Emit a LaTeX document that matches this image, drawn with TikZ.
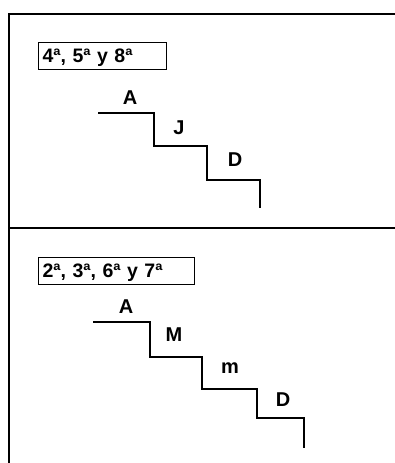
\documentclass[tikz,border=0pt]{standalone}
\usepackage{fontspec}
\setmainfont{Liberation Sans}
\begin{document}
\begin{tikzpicture}[x=1pt,y=-1pt,font=\bfseries\fontsize{20}{22}\selectfont,
		frame/.style={line width=1.6pt},
		stair/.style={line width=1.3pt},
		tag/.style={draw,line width=1.2pt,inner sep=0pt,anchor=north west,minimum height=27pt,text width=#1,align=left,text depth=0pt,font=\bfseries\fontsize{19.5}{21}\selectfont}]
	\useasboundingbox (0,0) rectangle (395,463);
	% frame
	\draw[frame] (396,14)--(9,14)--(9,464);
	\draw[frame] (9,228)--(396,228);
	% top panel
	\node[tag=128pt] (t1) at (38,42) {\hspace{4pt}4ª, 5ª y 8ª};
	\draw[stair] (98,113)--(154,113)--(154,146)--(207,146)--(207,180)--(260,180)--(260,208);
	\node (a1) at (130,98) {A};
	\node (j1) at (179,128) {J};
	\node (d1) at (235,160) {D};
	% bottom panel
	\node[tag=156pt] (t2) at (38,257) {\hspace{4pt}2ª, 3ª, 6ª y 7ª};
	\draw[stair] (93,322)--(150,322)--(150,357)--(202,357)--(202,389)--(257,389)--(257,418)--(304,418)--(304,448);
	\node (a2) at (126,307) {A};
	\node (m2) at (174,335) {M};
	\node (n2) at (230,368) {m};
	\node (d2) at (283,400) {D};
\end{tikzpicture}
\end{document}
